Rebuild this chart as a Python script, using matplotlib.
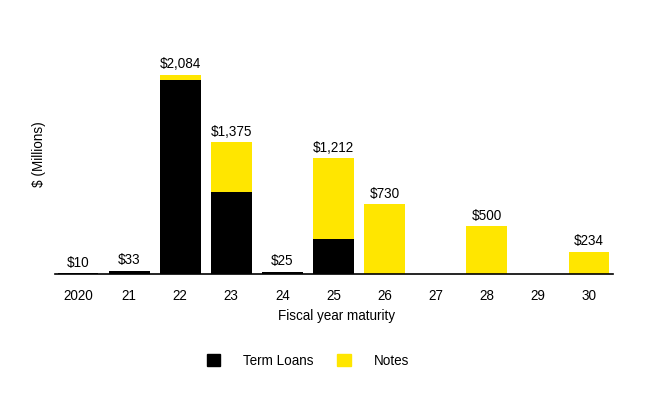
import numpy as np
import matplotlib.pyplot as plt
from matplotlib.patches import Patch

plt.rcParams['font.family'] = ['Liberation Sans', 'DejaVu Sans']

years = ['2020', '21', '22', '23', '24', '25', '26', '27', '28', '29', '30']
term_loans = [10, 33, 2030, 859, 25, 368, 0, 0, 0, 0, 0]
notes = [0, 0, 54, 516, 0, 844, 730, 0, 500, 0, 234]
totals = ['$10', '$33', '$2,084', '$1,375', '$25', '$1,212', '$730', '', '$500', '', '$234']

black = '#000000'
yellow = '#FFE600'
fs = 9.75

fig = plt.figure(figsize=(6.48, 3.98), dpi=100)
ax = fig.add_axes([55/648, 1-274/398, 558/648, 224/398])

x = np.arange(len(years))
tl = np.array(term_loans)
nt = np.array(notes)
ax.bar(x, tl, width=0.8, color=black)
ax.bar(x, nt, width=0.8, bottom=tl, color=yellow)

for i in range(len(years)):
    if totals[i]:
        ax.text(x[i], tl[i]+nt[i]+35, totals[i], ha='center', va='bottom', fontsize=fs)

ax.set_xlim(-0.45, 10.47)
ax.set_ylim(0, 2340)
ax.set_xticks(x)
ax.set_xticklabels(years, fontsize=fs)
ax.set_yticks([])
ax.tick_params(axis='x', length=0, pad=11)
for s in ['top', 'right', 'left']:
    ax.spines[s].set_visible(False)
ax.spines['bottom'].set_linewidth(1.2)

fig.text(337/648, 1-316/398, 'Fiscal year maturity', ha='center', va='center', fontsize=fs)
fig.text(39/648, 1-154/398, '$ (Millions)', ha='center', va='center', rotation=90, fontsize=fs)

handles = [Patch(color=black, label='Term Loans'), Patch(color=yellow, label='Notes')]
fig.legend(handles=handles, loc='center', bbox_to_anchor=(308/648, 1-361/398), ncol=2,
           frameon=False, fontsize=fs, handlelength=1.0, handleheight=1.0,
           handletextpad=1.7, columnspacing=1.75)

fig.savefig('out.png', dpi=100)
